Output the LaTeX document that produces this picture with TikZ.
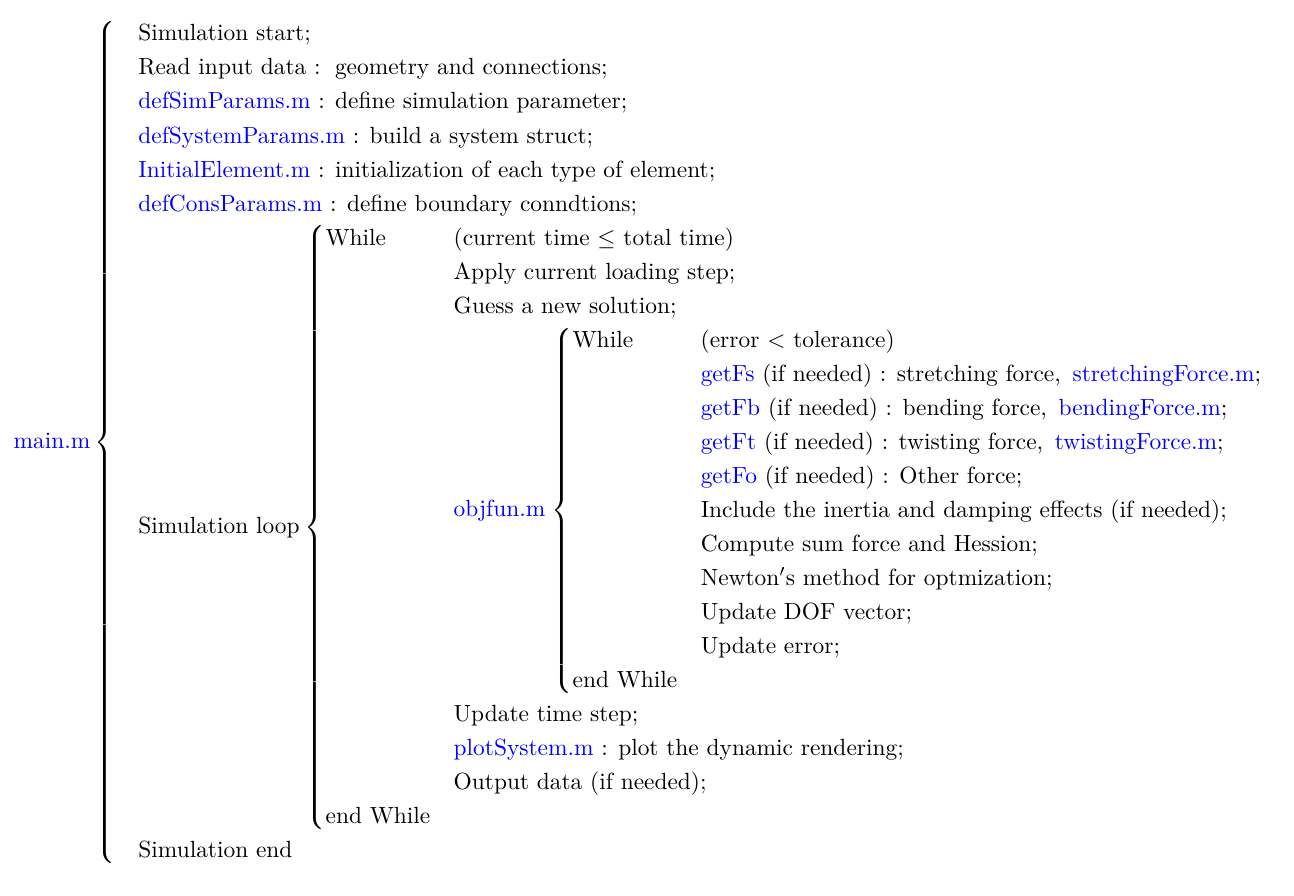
\documentclass[tikz,border=0pt]{standalone}
\usepackage{amsmath}
\newcommand{\mfile}[1]{\textcolor{blue}{#1}}
\begin{document}
\begin{tikzpicture}
\useasboundingbox (0,0) rectangle (553pt,-382.5pt);
\node[anchor=north west, inner sep=0pt] (main) at (5.6pt,-7.1pt) {$\renewcommand{\arraystretch}{1.212}%
\text{\mfile{main.m}}\left\{\begin{array}{@{\hspace{10pt}}l}
\text{Simulation start;}\\
\text{Read input data : \,geometry and connections;}\\
\text{\mfile{defSimParams.m} : define simulation parameter;}\\
\text{\mfile{defSystemParams.m} : build a system struct;}\\
\text{\mfile{InitialElement.m} : initialization of each type of element;}\\
\text{\mfile{defConsParams.m} : define boundary conndtions;}\\
\text{Simulation loop}\mkern1mu\left\{\begin{array}{@{}l@{\hspace{10pt}}l}
\text{While} & \text{(current time $\leq$ total time)}\\
 & \text{Apply current loading step;}\\
 & \text{Guess a new solution;}\\
 & \text{\mfile{objfun.m}}\mkern2mu\left\{\begin{array}{@{}l@{\hspace{10pt}}l}
   \text{While} & \text{(error $<$ tolerance)}\\
    & \text{\mfile{getFs} (if needed) : stretching force, \,\mfile{stretchingForce.m};}\\
    & \text{\mfile{getFb} (if needed) : bending force, \,\mfile{bendingForce.m};}\\
    & \text{\mfile{getFt} (if needed) : twisting force, \,\mfile{twistingForce.m};}\\
    & \text{\mfile{getFo} (if needed) : Other force;}\\
    & \text{Include the inertia and damping effects (if needed);}\\
    & \text{Compute sum force and Hession;}\\
    & \text{Newton$'$s method for optmization;}\\
    & \text{Update DOF vector;}\\
    & \text{Update error;}\\
   \text{end While} &
 \end{array}\right.\\
 & \text{Update time step;}\\
 & \text{\mfile{plotSystem.m} : plot the dynamic rendering;}\\
 & \text{Output data (if needed);}\\
\text{end While} &
\end{array}\right.\\
\text{Simulation end}
\end{array}\right.$};
\end{tikzpicture}
\end{document}
